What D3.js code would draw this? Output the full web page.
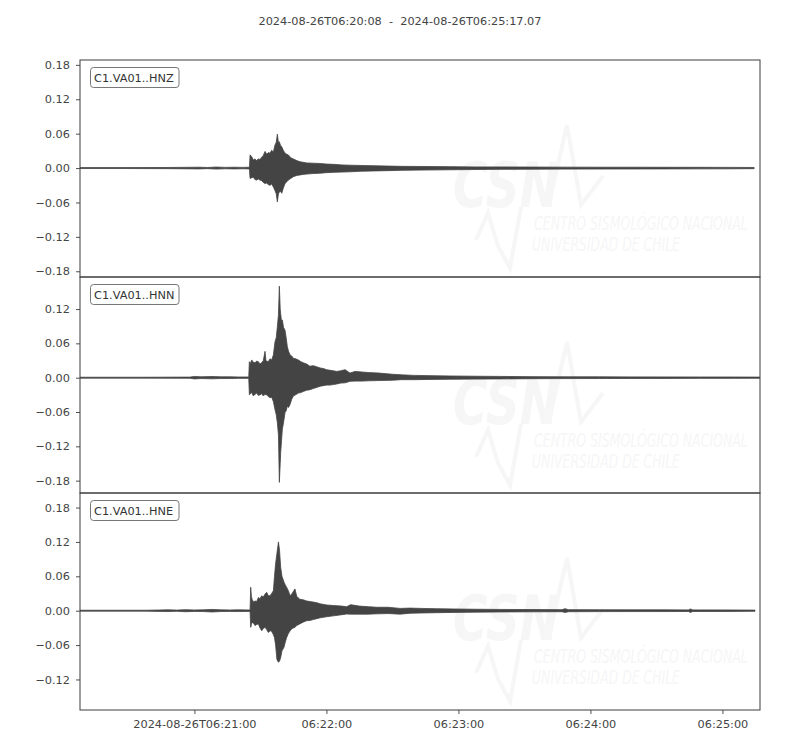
<!DOCTYPE html>
<html>
<head>
<meta charset="utf-8">
<script src="https://cdn.jsdelivr.net/npm/d3@7"></script>
<style>
  html, body { margin: 0; padding: 0; background: #fff; }
  svg { display: block; font-family: "DejaVu Sans", sans-serif; }
</style>
</head>
<body>
<svg id="chart" width="800" height="750"></svg>
<script>
// ---------------- data ----------------
const startTime = "2024-08-26T06:20:08Z";
const endTime = "2024-08-26T06:25:17.07Z";
const titleText = "2024-08-26T06:20:08  -  2024-08-26T06:25:17.07";

const traceNames = ["C1.VA01..HNZ", "C1.VA01..HNN", "C1.VA01..HNE"];

const xTickTimes = ["2024-08-26T06:21:00Z", "2024-08-26T06:22:00Z", "2024-08-26T06:23:00Z", "2024-08-26T06:24:00Z", "2024-08-26T06:25:00Z"];
const xTickLabels = ["2024-08-26T06:21:00", "06:22:00", "06:23:00", "06:24:00", "06:25:00"];

const yDomains = [[-0.1900, 0.1885], [-0.2016, 0.1760], [-0.1733, 0.2054]];
const yTicksHNZ = [0.18, 0.12, 0.06, 0.00, -0.06, -0.12, -0.18];
const yTicksHNN = [0.12, 0.06, 0.00, -0.06, -0.12, -0.18];
const yTicksHNE = [0.18, 0.12, 0.06, 0.00, -0.06, -0.12];

// envelopes: seconds after start, maximum and minimum amplitude
const hnzTime = [0, 20, 40, 54, 58, 62, 66, 70, 74, 77.0, 77.3, 78.0, 78.8, 79.5, 80.3, 81.0, 81.8, 82.6, 83.3, 84.1, 84.9, 85.6, 86.4, 87.1, 87.9, 88.6, 89.2, 89.7, 90.2, 90.6, 91.1, 91.7, 92.4, 93.2, 94.0, 94.7, 95.8, 97.0, 98.5, 100, 101.5, 103, 106, 109, 112, 115.2, 119, 122.7, 128, 134, 140, 146, 155, 168, 180, 191, 205, 220, 236, 250, 265, 282, 295, 306.4];
const hnzMax = [0.0008, 0.0008, 0.001, 0.0015, 0.001, 0.0018, 0.0012, 0.0015, 0.0012, 0.0015, 0.023, 0.02, 0.014, 0.016, 0.013, 0.016, 0.015, 0.019, 0.022, 0.029, 0.024, 0.027, 0.026, 0.031, 0.028, 0.04, 0.045, 0.059, 0.044, 0.046, 0.04, 0.037, 0.031, 0.026, 0.024, 0.023, 0.018, 0.016, 0.013, 0.011, 0.010, 0.009, 0.0085, 0.008, 0.007, 0.0065, 0.0055, 0.005, 0.0045, 0.004, 0.0035, 0.003, 0.0028, 0.0025, 0.002, 0.002, 0.0018, 0.0016, 0.0015, 0.0015, 0.0014, 0.0013, 0.0012, 0.001];
const hnzMin = [-0.0008, -0.0008, -0.001, -0.0015, -0.001, -0.0018, -0.0012, -0.0015, -0.0012, -0.0015, -0.018, -0.017, -0.016, -0.02, -0.021, -0.019, -0.021, -0.022, -0.025, -0.027, -0.026, -0.029, -0.03, -0.028, -0.033, -0.039, -0.045, -0.059, -0.045, -0.042, -0.04, -0.044, -0.035, -0.027, -0.024, -0.021, -0.018, -0.015, -0.013, -0.012, -0.011, -0.0105, -0.0095, -0.009, -0.008, -0.0075, -0.007, -0.0065, -0.0055, -0.005, -0.0045, -0.004, -0.0035, -0.003, -0.0025, -0.0022, -0.002, -0.0018, -0.0017, -0.0016, -0.0015, -0.0014, -0.0013, -0.001];

const hnnTime = [0, 30, 50, 52, 55, 60, 64, 68, 72, 76.7, 76.97, 77.5, 78.03, 78.79, 79.55, 80.3, 81.06, 81.82, 82.58, 83.33, 84.09, 84.5, 84.85, 85.61, 86.36, 87.12, 87.9, 88.64, 89.2, 89.7, 90.2, 90.61, 91.0, 91.21, 91.6, 91.97, 92.5, 93.18, 93.7, 94.24, 94.8, 95.45, 96.2, 96.97, 98.0, 99.24, 100.4, 101.5, 103.0, 104.5, 106.0, 107.6, 109.1, 110.6, 112.1, 113.6, 115.2, 116.7, 118.5, 120.5, 122.7, 125, 128, 131, 136, 142, 146, 152, 160, 168, 180, 191, 205, 220, 236, 250, 265, 282, 295, 309];
const hnnMax = [0.0008, 0.0008, 0.001, 0.0022, 0.0015, 0.002, 0.0015, 0.0015, 0.0012, 0.0012, 0.028, 0.025, 0.031, 0.027, 0.026, 0.029, 0.028, 0.024, 0.026, 0.03, 0.046, 0.03, 0.029, 0.028, 0.033, 0.031, 0.04, 0.063, 0.07, 0.089, 0.11, 0.16, 0.12, 0.112, 0.098, 0.101, 0.088, 0.083, 0.07, 0.054, 0.046, 0.04, 0.038, 0.034, 0.033, 0.031, 0.028, 0.026, 0.024, 0.02, 0.021, 0.019, 0.017, 0.016, 0.014, 0.013, 0.012, 0.011, 0.012, 0.014, 0.008, 0.011, 0.01, 0.009, 0.008, 0.006, 0.005, 0.004, 0.0035, 0.003, 0.0025, 0.0022, 0.0018, 0.0015, 0.0015, 0.0014, 0.0013, 0.0012, 0.0012, 0.001];
const hnnMin = [-0.0008, -0.0008, -0.001, -0.0022, -0.0015, -0.002, -0.0015, -0.0015, -0.0012, -0.0012, -0.03, -0.028, -0.026, -0.032, -0.029, -0.027, -0.031, -0.03, -0.028, -0.032, -0.029, -0.03, -0.03, -0.033, -0.035, -0.034, -0.042, -0.056, -0.065, -0.079, -0.1, -0.183, -0.15, -0.131, -0.11, -0.09, -0.079, -0.061, -0.058, -0.05, -0.052, -0.047, -0.038, -0.032, -0.03, -0.027, -0.026, -0.024, -0.022, -0.021, -0.019, -0.017, -0.015, -0.014, -0.013, -0.013, -0.012, -0.011, -0.0095, -0.009, -0.0064, -0.006, -0.006, -0.0055, -0.005, -0.0045, -0.0035, -0.0035, -0.003, -0.0028, -0.0025, -0.0022, -0.0018, -0.0016, -0.0015, -0.0014, -0.0013, -0.0012, -0.0012, -0.001];

const hneTime = [0, 30, 36, 40, 44, 48, 52, 56, 60, 64, 68, 72, 77.3, 77.58, 77.9, 78.2, 78.9, 79.55, 80.3, 81.1, 81.8, 82.6, 83.3, 84.1, 84.85, 85.6, 86.4, 87.1, 87.9, 88.4, 88.9, 89.5, 90.2, 90.7, 91.2, 91.8, 92.7, 93.3, 93.9, 94.7, 95.5, 96.4, 97.7, 98.5, 99.9, 101.4, 103.0, 104.5, 106.0, 107.6, 109.1, 112.1, 115.2, 119, 121.2, 123, 127, 131, 135, 140, 145.5, 150, 155, 162, 170, 180, 191, 205, 219, 220.5, 222, 236, 250, 265, 276.5, 277.5, 278.5, 282, 295, 306.8];
const hneMax = [0.0008, 0.0008, 0.0012, 0.0015, 0.001, 0.0018, 0.0012, 0.0015, 0.0022, 0.0015, 0.0012, 0.0015, 0.0012, 0.041, 0.025, 0.02, 0.015, 0.017, 0.016, 0.023, 0.021, 0.026, 0.024, 0.029, 0.032, 0.026, 0.026, 0.03, 0.035, 0.06, 0.082, 0.1, 0.12, 0.105, 0.076, 0.06, 0.05, 0.045, 0.041, 0.035, 0.026, 0.03, 0.038, 0.025, 0.02, 0.019, 0.017, 0.016, 0.015, 0.014, 0.012, 0.01, 0.009, 0.008, 0.007, 0.0105, 0.008, 0.007, 0.006, 0.006, 0.004, 0.0045, 0.004, 0.0035, 0.003, 0.0025, 0.0022, 0.002, 0.0018, 0.0035, 0.0018, 0.0016, 0.0015, 0.0015, 0.0014, 0.003, 0.0014, 0.0014, 0.0013, 0.001];
const hneMin = [-0.0008, -0.0008, -0.0012, -0.0015, -0.001, -0.0018, -0.0012, -0.0015, -0.0022, -0.0015, -0.0012, -0.0015, -0.0012, -0.029, -0.024, -0.02, -0.022, -0.026, -0.024, -0.023, -0.03, -0.035, -0.031, -0.029, -0.033, -0.038, -0.035, -0.036, -0.042, -0.047, -0.06, -0.085, -0.09, -0.088, -0.082, -0.07, -0.064, -0.055, -0.047, -0.04, -0.035, -0.031, -0.029, -0.026, -0.023, -0.02, -0.0175, -0.017, -0.0155, -0.014, -0.0125, -0.0105, -0.009, -0.007, -0.0058, -0.006, -0.006, -0.006, -0.0055, -0.005, -0.006, -0.0045, -0.004, -0.0035, -0.003, -0.0025, -0.0022, -0.002, -0.0018, -0.003, -0.0018, -0.0016, -0.0015, -0.0015, -0.0014, -0.003, -0.0014, -0.0014, -0.0013, -0.001];

const traceTimes = [hnzTime, hnnTime, hneTime];
const traceMax = [hnzMax, hnnMax, hneMax];
const traceMin = [hnzMin, hnnMin, hneMin];
const yTickSets = [yTicksHNZ, yTicksHNN, yTicksHNE];

const watermarkTitle = "CSN";
const watermarkLine1 = "CENTRO SISMOLÓGICO NACIONAL";
const watermarkLine2 = "UNIVERSIDAD DE CHILE";

// ---------------- layout ----------------
const svg = d3.select("#chart");
const left = 80, right = 760;
const panelTops = [60, 277, 493];
const panelBottoms = [277, 493, 710];
const waveColor = "#444444";
const axisColor = "#3c3c3c";
const textColor = "#444444";
const wmColor = "#f6f6f6";
const fontSize = 11.3;

const t0 = new Date(startTime);
const t1 = new Date(endTime);
const x = d3.scaleUtc().domain([t0, t1]).range([left, right]);
const toDate = s => new Date(t0.getTime() + s * 1000);

svg.append("rect").attr("width", 800).attr("height", 750).attr("fill", "#fff");

// title
svg.append("text")
  .attr("x", 400).attr("y", 25)
  .attr("text-anchor", "middle")
  .attr("font-size", fontSize)
  .attr("fill", textColor)
  .attr("xml:space", "preserve")
  .style("white-space", "pre")
  .text(titleText);

const minusFmt = v => {
  const s = d3.format(".2f")(Math.abs(v));
  return (v < 0 ? "\u2212" : "") + s;
};

// squeeze a text horizontally so that it spans the given width
function fitText(sel, x0, y0, width) {
  sel.attr("x", 0).attr("y", 0);
  const w = sel.node().getComputedTextLength();
  const k = width / w;
  sel.attr("transform", `translate(${x0},${y0}) scale(${k},1)`);
}

traceNames.forEach((name, i) => {
  const top = panelTops[i], bottom = panelBottoms[i];
  const y = d3.scaleLinear().domain(yDomains[i]).range([bottom, top]);
  const g = svg.append("g");

  g.append("clipPath").attr("id", "clip" + i)
    .append("rect").attr("x", left).attr("y", top).attr("width", right - left).attr("height", bottom - top);

  // watermark (very faint)
  const dy = top - 60;
  const wm = g.append("g").attr("transform", `translate(0,${dy})`).attr("fill", wmColor).attr("stroke", "none");
  const wt = wm.append("text")
    .attr("font-size", 62).attr("font-weight", "bold").attr("font-style", "italic")
    .text(watermarkTitle);
  fitText(wt, 453, 207, 106);
  wm.append("path")
    .attr("d", "M552,190 L567,125 L581,205 L603,176")
    .attr("fill", "none").attr("stroke", wmColor).attr("stroke-width", 4);
  wm.append("path")
    .attr("d", "M476,240 L488,213 L498,246 L510,268 L521,207")
    .attr("fill", "none").attr("stroke", wmColor).attr("stroke-width", 4);
  const w1 = wm.append("text")
    .attr("font-size", 19).attr("font-style", "italic")
    .text(watermarkLine1);
  fitText(w1, 534, 230, 214);
  const w2 = wm.append("text")
    .attr("font-size", 19).attr("font-style", "italic")
    .text(watermarkLine2);
  fitText(w2, 532, 251, 148);

  // waveform envelope
  const pts = traceTimes[i].map((t, k) => ({ t: toDate(t), hi: traceMax[i][k], lo: traceMin[i][k] }));
  const area = d3.area()
    .x(d => x(d.t))
    .y0(d => y(d.lo))
    .y1(d => y(d.hi));
  g.append("path")
    .datum(pts)
    .attr("clip-path", `url(#clip${i})`)
    .attr("d", area)
    .attr("fill", waveColor)
    .attr("stroke", waveColor)
    .attr("stroke-width", 0.8)
    .attr("stroke-linejoin", "round");

  // y axis
  const yAxis = d3.axisLeft(y)
    .tickValues(yTickSets[i])
    .tickSize(4)
    .tickPadding(6)
    .tickFormat(minusFmt);
  const ya = g.append("g").attr("transform", `translate(${left},0)`).call(yAxis);
  ya.select(".domain").remove();
  ya.selectAll(".tick line").attr("stroke", axisColor).attr("stroke-width", 0.9);
  ya.selectAll(".tick text").attr("fill", textColor).attr("font-size", fontSize).attr("font-family", "DejaVu Sans");

  // spines
  g.append("rect")
    .attr("x", left).attr("y", top)
    .attr("width", right - left).attr("height", bottom - top)
    .attr("fill", "none").attr("stroke", axisColor).attr("stroke-width", 1);

  // trace label box
  const lb = g.append("g");
  lb.append("rect")
    .attr("x", 90.5).attr("y", top + 7.5)
    .attr("width", 88.5).attr("height", 20)
    .attr("rx", 3).attr("ry", 3)
    .attr("fill", "#fff").attr("stroke", "#777").attr("stroke-width", 1);
  lb.append("text")
    .attr("x", 94).attr("y", top + 21.5)
    .attr("font-size", fontSize)
    .attr("fill", "#333")
    .text(name);

  // x axis only on the bottom panel
  if (i === traceNames.length - 1) {
    const xAxis = d3.axisBottom(x)
      .tickValues(xTickTimes.map(s => new Date(s)))
      .tickSize(4)
      .tickPadding(6)
      .tickFormat((d, k) => xTickLabels[k]);
    const xa = g.append("g").attr("transform", `translate(0,${bottom})`).call(xAxis);
    xa.select(".domain").remove();
    xa.selectAll(".tick line").attr("stroke", axisColor).attr("stroke-width", 0.9);
    xa.selectAll(".tick text").attr("fill", textColor).attr("font-size", fontSize).attr("font-family", "DejaVu Sans");
  }
});
</script>
</body>
</html>
